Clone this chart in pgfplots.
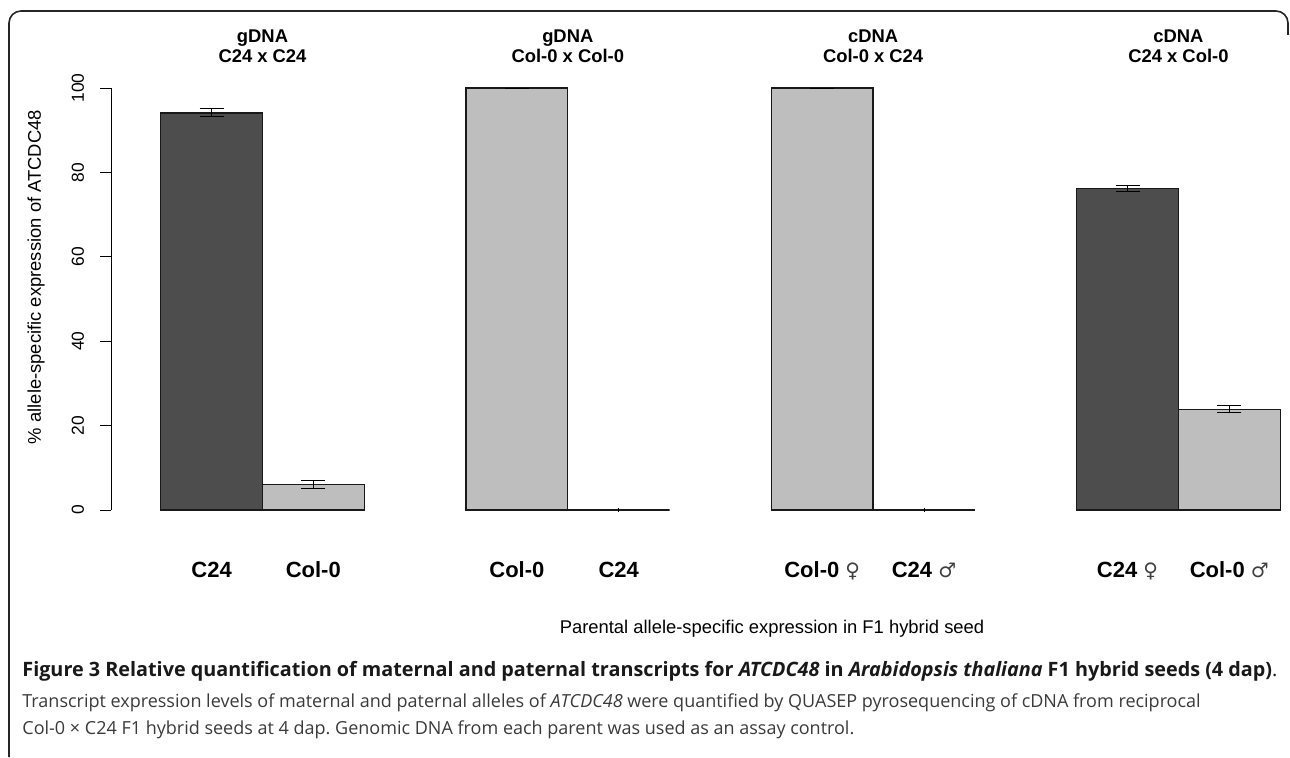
\documentclass[border=0pt]{standalone}
\usepackage{pgfplots}
\pgfplotsset{compat=1.18}
\usepackage{fontspec}
\setmainfont{Liberation Sans}
\newfontfamily\capfont{Open Sans}
\newfontfamily\symfont{DejaVu Sans}
\definecolor{darkbar}{HTML}{4D4D4D}
\definecolor{lightbar}{HTML}{BEBEBE}
\definecolor{captxt}{HTML}{3A3A3A}
\newcommand{\fem}{{\symfont\mdseries\fontsize{10}{12}\selectfont\color{black!75}♀}}
\newcommand{\mal}{{\symfont\mdseries\fontsize{10}{12}\selectfont\color{black!75}♂}}
\frenchspacing
\begin{document}
\begin{tikzpicture}[x=0.5pt,y=0.5pt]
\path[use as bounding box] (0,0) rectangle (1290,757);
\draw[line width=0.8pt, color=black!85, rounded corners=6pt] (9,0) -- (9,746) -- (1288,746) -- (1288,722);
\begin{axis}[
  at={(55.5pt,123.5pt)}, anchor=south west,
  x=0.5pt, y=2.11pt,
  xmin=111, xmax=1290, ymin=0, ymax=100,
  axis y line*=left, axis x line*=bottom,
  x axis line style={draw=none},
  axis line style={line width=0.5pt, black},
  xtick={211.6,313.3,516.9,618.7,822.2,924.0,1127.5,1229.3},
  xticklabels={C24, Col-0, Col-0, C24, {Col-0 \fem}, {C24 \mal}, {C24 \fem}, {Col-0 \mal}},
  x tick style={draw=none},
  ytick={0,20,40,60,80,100},
  /pgf/number format/assume math mode=true,
  tick align=outside, major tick length=5.5pt,
  y tick style={black, line width=0.5pt},
  yticklabel style={rotate=90, anchor=south, font=\fontsize{8.7}{10}\selectfont, yshift=4.5pt},
  xticklabel style={anchor=base, font=\bfseries\fontsize{11}{13}\selectfont, yshift=-28pt},
  clip=false,
]
\addplot[ybar, bar width=101.75, bar shift=0pt, fill=darkbar, draw=black!90, line width=0.6pt,
  error bars/.cd, y dir=both, y explicit, error bar style={black, line width=0.5pt},
  error mark options={black, rotate=90, mark size=6pt, line width=0.5pt}]
  coordinates {(211.6,94.1) +- (0,0.95) (1127.5,76.1) +- (0,0.7)};
\addplot[ybar, bar width=101.75, bar shift=0pt, fill=lightbar, draw=black!90, line width=0.6pt,
  error bars/.cd, y dir=both, y explicit, error bar style={black, line width=0.5pt},
  error mark options={black, rotate=90, mark size=6pt, line width=0.5pt}]
  coordinates {(313.3,6.0) +- (0,0.95) (516.9,100) +- (0,0) (822.2,100) +- (0,0) (1229.3,23.9) +- (0,0.9)};
\addplot[ybar, bar width=101.75, bar shift=0pt, fill=white, draw=black!90, line width=0.6pt,
  error bars/.cd, y dir=both, y explicit, error bar style={black, line width=0.5pt},
  error mark options={black, mark size=0.9pt, line width=0.5pt}]
  coordinates {(618.7,0) +- (0,0) (924.0,0) +- (0,0)};
\end{axis}
% panel titles
\foreach \cx/\a/\b in {262.5/gDNA/C24 x C24, 567.8/gDNA/Col-0 x Col-0, 873.1/cDNA/Col-0 x C24, 1178.4/cDNA/C24 x Col-0}{
  \node[anchor=base, inner sep=0pt, font=\bfseries\fontsize{9.2}{11}\selectfont] at (\cx,714) {\a};
  \node[anchor=base, inner sep=0pt, font=\bfseries\fontsize{9.2}{11}\selectfont] at (\cx,694) {\b};
}
\node[rotate=90, inner sep=0pt, font=\fontsize{9.2}{11}\selectfont] at (36,480) {\% allele-specific expression of ATCDC48};
\node[anchor=base, inner sep=0pt, font=\fontsize{9.2}{11}\selectfont] at (772,124) {Parental allele-specific expression in F1 hybrid seed};
% caption
\node[anchor=base west, inner sep=0pt, font=\capfont\fontsize{9.9}{12}\selectfont, color=black!90] at (22,81)
  {\textbf{Figure 3 Relative quantification of maternal and paternal transcripts for \textit{ATCDC48} in \textit{Arabidopsis thaliana} F1 hybrid seeds (4 dap)}.};
\node[anchor=base west, inner sep=0pt, font=\capfont\fontsize{9.0}{11}\selectfont, color=captxt] at (22,50)
  {Transcript expression levels of maternal and paternal alleles of \textit{ATCDC48} were quantified by QUASEP pyrosequencing of cDNA from reciprocal};
\node[anchor=base west, inner sep=0pt, font=\capfont\fontsize{9.0}{11}\selectfont, color=captxt] at (22,23)
  {Col-0 × C24 F1 hybrid seeds at 4 dap. Genomic DNA from each parent was used as an assay control.};
\end{tikzpicture}
\end{document}
